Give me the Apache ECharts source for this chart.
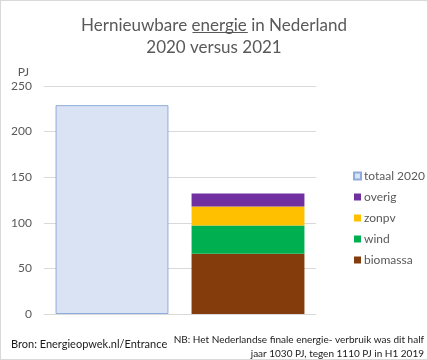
<!DOCTYPE html>
<html><head><meta charset="utf-8">
<script src="https://cdn.jsdelivr.net/npm/echarts@6/dist/echarts.min.js"></script>
<style>html,body{margin:0;padding:0;background:#fff}#c{width:428px;height:360px;box-sizing:border-box;border:1px solid #d9d9d9}</style>
</head><body><div id="c"></div>
<script>
const categories = ['2020', '2021'];
const totaal2020 = [229, '-'];
const biomassa = ['-', 66];
const wind = ['-', 31];
const zonpv = ['-', 21];
const overig = ['-', 14];
const yTicks = [0, 50, 100, 150, 200, 250];

const chart = echarts.init(document.getElementById('c'), null, {renderer: 'canvas'});
const font = 'Lato';
const grey = '#595959';
chart.setOption({
  animation: false,
  backgroundColor: '#fff',
  title: [{
    text: 'Hernieuwbare energie in Nederland\n2020 versus 2021',
    left: 'center', top: 9,
    textStyle: {fontFamily: font, fontSize: 17, fontWeight: 'normal', color: grey, lineHeight: 22}
  }],
  legend: {
    orient: 'vertical', left: 347, top: 164, itemGap: 9,
    itemWidth: 7, itemHeight: 7, icon: 'rect',
    data: ['totaal 2020', 'overig', 'zonpv', 'wind', 'biomassa'],
    textStyle: {fontFamily: font, fontSize: 12, color: grey, padding: [0, 0, 0, -2]}
  },
  grid: {left: 43, right: 111, top: 85, bottom: 45, containLabel: false},
  xAxis: {
    type: 'category', data: categories,
    axisLine: {lineStyle: {color: '#d9d9d9'}}, axisTick: {show: false},
    axisLabel: {show: false}
  },
  yAxis: {
    type: 'value', min: yTicks[0], max: yTicks[yTicks.length - 1], interval: 50,
    name: 'PJ', nameLocation: 'end', nameGap: 8,
    nameTextStyle: {fontFamily: font, fontSize: 12, color: grey, align: 'right', padding: [0, 15, 0, 0]},
    axisLine: {show: false}, axisTick: {show: false},
    axisLabel: {fontFamily: font, fontSize: 12, color: grey, margin: 12},
    splitLine: {lineStyle: {color: '#d9d9d9'}}
  },
  series: [
    {name: 'totaal 2020', type: 'bar', stack: 's', data: totaal2020, barCategoryGap: '17%',
     itemStyle: {color: '#dae3f3', borderColor: '#8faadc', borderWidth: 1}},
    {name: 'biomassa', type: 'bar', stack: 's', data: biomassa, itemStyle: {color: '#843c0c'}},
    {name: 'wind', type: 'bar', stack: 's', data: wind, itemStyle: {color: '#00b050'}},
    {name: 'zonpv', type: 'bar', stack: 's', data: zonpv, itemStyle: {color: '#ffc000'}},
    {name: 'overig', type: 'bar', stack: 's', data: overig, itemStyle: {color: '#7030a0'}}
  ]
});
(function(){
  const c = document.createElement('canvas').getContext('2d');
  c.font = '17px Lato';
  const full = c.measureText('Hernieuwbare energie in Nederland').width;
  const pre = c.measureText('Hernieuwbare ').width;
  const w = c.measureText('energie').width;
  const x0 = 214 - full / 2 + pre;
  chart.setOption({graphic: [
    {type: 'text', x: 10, y: 343,
     style: {text: 'Bron: Energieopwek.nl/Entrance', fontFamily: font, fontSize: 11, fill: '#1a1a1a', verticalAlign: 'middle'}},
    {type: 'text', x: 423, y: 332,
     style: {text: 'NB: Het Nederlandse finale energie- verbruik was dit half\njaar 1030 PJ, tegen 1110 PJ in H1 2019',
       fontFamily: font, fontSize: 10, fill: '#1a1a1a', align: 'right', verticalAlign: 'top', lineHeight: 14}},
    {type: 'line', shape: {x1: x0, y1: 31.5, x2: x0 + w, y2: 31.5}, style: {stroke: grey, lineWidth: 1}}
  ]});
})();
</script></body></html>
